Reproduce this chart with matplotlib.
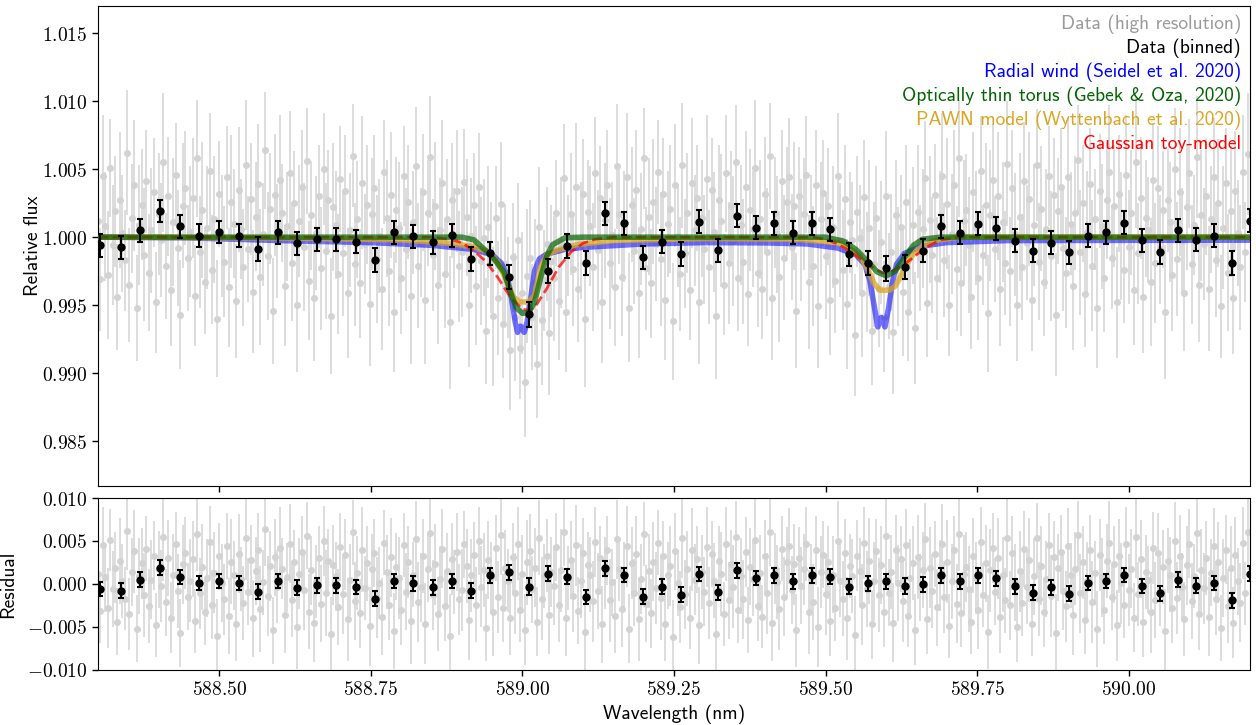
import numpy as np
import matplotlib
matplotlib.use("Agg")
import matplotlib.pyplot as plt
from matplotlib.lines import Line2D
from matplotlib.ticker import MultipleLocator, FuncFormatter

plt.rcParams["mathtext.fontset"] = "cm"
plt.rcParams["axes.formatter.use_mathtext"] = True

# high resolution spectrum: wavelength (offset from 588 nm, in 1e-3 nm), residual and error (1e-4)
hi_wl_milli = [
    300, 304, 308, 312, 316, 320, 324, 328, 332, 336, 340, 344, 348, 352, 356, 360, 364, 368, 372,
    376, 380, 384, 388, 392, 396, 400, 404, 408, 412, 416, 420, 424, 428, 432, 436, 440, 444, 448,
    452, 456, 460, 464, 468, 472, 476, 480, 484, 488, 492, 496, 500, 504, 508, 512, 516, 520, 524,
    528, 532, 536, 540, 544, 548, 552, 556, 560, 564, 568, 572, 576, 580, 584, 588, 592, 596, 600,
    604, 608, 612, 616, 620, 624, 628, 632, 636, 640, 644, 648, 652, 656, 660, 664, 668, 672, 676,
    680, 684, 688, 692, 696, 700, 704, 708, 712, 716, 720, 724, 728, 732, 736, 740, 744, 748, 752,
    756, 760, 764, 768, 772, 776, 780, 784, 788, 792, 796, 800, 804, 808, 812, 816, 820, 824, 828,
    832, 836, 840, 844, 848, 852, 856, 860, 864, 868, 872, 876, 880, 884, 888, 892, 896, 900, 904,
    908, 912, 916, 920, 924, 928, 932, 936, 940, 944, 948, 952, 956, 960, 964, 968, 972, 976, 980,
    984, 988, 992, 996, 1000, 1004, 1008, 1012, 1016, 1020, 1024, 1028, 1032, 1036, 1040, 1044, 1048, 1052, 1056,
    1060, 1064, 1068, 1072, 1076, 1080, 1084, 1088, 1092, 1096, 1100, 1104, 1108, 1112, 1116, 1120, 1124, 1128, 1132,
    1136, 1140, 1144, 1148, 1152, 1156, 1160, 1164, 1168, 1172, 1176, 1180, 1184, 1188, 1192, 1196, 1200, 1204, 1208,
    1212, 1216, 1220, 1224, 1228, 1232, 1236, 1240, 1244, 1248, 1252, 1256, 1260, 1264, 1268, 1272, 1276, 1280, 1284,
    1288, 1292, 1296, 1300, 1304, 1308, 1312, 1316, 1320, 1324, 1328, 1332, 1336, 1340, 1344, 1348, 1352, 1356, 1360,
    1364, 1368, 1372, 1376, 1380, 1384, 1388, 1392, 1396, 1400, 1404, 1408, 1412, 1416, 1420, 1424, 1428, 1432, 1436,
    1440, 1444, 1448, 1452, 1456, 1460, 1464, 1468, 1472, 1476, 1480, 1484, 1488, 1492, 1496, 1500, 1504, 1508, 1512,
    1516, 1520, 1524, 1528, 1532, 1536, 1540, 1544, 1548, 1552, 1556, 1560, 1564, 1568, 1572, 1576, 1580, 1584, 1588,
    1592, 1596, 1600, 1604, 1608, 1612, 1616, 1620, 1624, 1628, 1632, 1636, 1640, 1644, 1648, 1652, 1656, 1660, 1664,
    1668, 1672, 1676, 1680, 1684, 1688, 1692, 1696, 1700, 1704, 1708, 1712, 1716, 1720, 1724, 1728, 1732, 1736, 1740,
    1744, 1748, 1752, 1756, 1760, 1764, 1768, 1772, 1776, 1780, 1784, 1788, 1792, 1796, 1800, 1804, 1808, 1812, 1816,
    1820, 1824, 1828, 1832, 1836, 1840, 1844, 1848, 1852, 1856, 1860, 1864, 1868, 1872, 1876, 1880, 1884, 1888, 1892,
    1896, 1900, 1904, 1908, 1912, 1916, 1920, 1924, 1928, 1932, 1936, 1940, 1944, 1948, 1952, 1956, 1960, 1964, 1968,
    1972, 1976, 1980, 1984, 1988, 1992, 1996, 2000, 2004, 2008, 2012, 2016, 2020, 2024, 2028, 2032, 2036, 2040, 2044,
    2048, 2052, 2056, 2060, 2064, 2068, 2072, 2076, 2080, 2084, 2088, 2092, 2096, 2100, 2104, 2108, 2112, 2116, 2120,
    2124, 2128, 2132, 2136, 2140, 2144, 2148, 2152, 2156, 2160, 2164, 2168, 2172, 2176, 2180, 2184, 2188, 2192, 2196,
]
hi_res_e4 = [
    12, -31, 45, 8, -28, 51, -6, 19, -44, 27, 3, -17, 62, -35, 14, 38, -52, 9, 24,
    -13, 41, -26, 5, 33, -48, 17, -2, 55, -21, 30, -39, 11, 46, -8, -57, 23, 36, -15,
    4, 29, -43, 58, -11, 20, -33, 7, 49, -24, 13, -60, 32, 1, -18, 44, -37, 26, 10,
    -47, 35, 6, -22, 53, -9, 28, -40, 15, 39, -29, 2, 64, -14, 21, -54, 31, -3, 42,
    18, -36, 8, 47, -19, 25, -50, 12, 37, -7, 56, -32, 16, -45, 3, 30, -23, 50, -10,
    27, -58, 22, 9, -27, 43, -12, 34, -41, 5, 60, -20, 13, -34, 40, -5, 24, -49, 17,
    36, -16, 1, -38, 48, 14, -25, 31, -55, 20, 7, -30, 45, -9, 26, -43, 11, 52, -21,
    -4, 33, -46, 18, 59, -13, 23, -35, 6, 41, -26, 15, -61, 29, 2, 37, -18, -7, 46,
    21, -42, 10, 34, -24, 50, -3, 16, -51, 28, 8, -33, 42, -15, 57, -28, 19, 4, -39,
    31, -11, 47, -30, 12, -53, 25, 38, -6, 19, -44, 54, -17, 9, 33, -36, 14, -2, 43,
    -25, 16, 61, -40, 7, 28, -14, 45, -31, 3, 36, -56, 22, 11, -20, 49, -8, 30, -47,
    13, 39, -19, 2, -37, 52, 17, -29, 8, 44, -52, 24, -10, 35, -41, 6, 58, -23, 15,
    -34, 26, -5, 48, -16, 32, -46, 10, 21, -62, 38, 1, -27, 53, -12, 18, -39, 40, 5,
    29, -48, 14, -9, 43, -22, 35, 4, -58, 27, 12, -35, 47, -19, 23, -3, 55, -30, 9,
    -18, 37, -42, 20, 6, 51, -26, 13, -38, 32, -11, 60, -45, 18, 2, -29, 41, -15, 26,
    44, -7, 23, -54, 30, -2, 17, 46, -33, 8, -21, 39, -50, 14, 34, -12, 25, -43, 11,
    -28, 50, 4, -17, 36, -40, 21, 9, -59, 33, 15, -24, 48, -6, 27, -47, 3, 38, -13,
    22, -32, 56, -10, 14, -45, 40, 1, 29, -20, 45, -37, 7, 24, -53, 31, -4, 16, 52,
    -41, 19, -8, 35, -27, 10, 47, -15, 26, -49, 3, 39, -23, 58, -34, 12, 20, -6, -44,
    33, 7, -30, 49, -13, 24, -56, 16, 42, -9, 30, -38, 11, -19, 54, -25, 36, 2, -50,
    15, -22, 41, -4, 28, -46, 9, 53, -18, 21, -33, 6, 45, -14, 31, -57, 19, 37, -8,
    -26, 44, 10, -36, 18, 57, -11, 25, -42, 4, 39, -21, 13, -52, 34, 8, -30, 27, 48,
    -15, 23, -48, 32, 1, -24, 46, -7, 18, -39, 55, -12, 29, -44, 14, 5, -33, 42, -19,
    36, -9, 20, -55, 27, 11, -28, 50, -16, 33, -3, -41, 22, 47, -20, 9, 59, -35, 16,
    -5, 30, -38, 13, 44, -17, 25, -51, 7, 40, -26, 19, -45, 34, 3, -22, 48, -11, 61,
]
hi_err_e4 = [
    42, 38, 45, 40, 47, 36, 44, 41, 39, 50, 43, 37, 46, 42, 40, 48, 39, 44, 41,
    49, 38, 43, 46, 40, 37, 45, 42, 51, 39, 44, 41, 47, 38, 43, 40, 46, 42, 39,
    48, 44, 37, 43, 41, 50, 38, 45, 42, 40, 47, 43, 39, 45, 41, 38, 44, 49, 40,
    42, 46, 37, 43, 48, 39, 41, 45, 40, 44, 50, 38, 43, 47, 41, 39, 45, 42, 48,
    36, 44, 40, 46, 43, 38, 49, 41, 42, 47, 39, 44, 40, 46, 42, 38, 45, 41, 50,
    37, 43, 47, 40, 44, 39, 46, 41, 48, 42, 38, 45, 43, 40, 49, 37, 44, 46, 41,
    39, 47, 42, 45, 38, 43, 40, 46, 44, 39, 48, 41, 37, 45, 42, 50, 38, 44, 46,
    40, 43, 47, 39, 45, 41, 47, 43, 38, 46, 40, 44, 49, 42, 37, 45, 41, 48, 39,
    43, 46, 42, 38, 44, 40, 47, 43, 39, 45, 41, 51, 38, 42, 46, 40, 44, 37, 44,
    40, 47, 42, 38, 45, 41, 49, 43, 39, 46, 40, 44, 48, 37, 42, 45, 41, 46, 39,
    43, 48, 40, 44, 37, 45, 42, 47, 39, 43, 41, 50, 38, 44, 47, 41, 44, 38, 45,
    42, 40, 48, 39, 43, 46, 37, 44, 41, 47, 40, 42, 39, 44, 48, 41, 37, 45, 43,
    40, 46, 42, 38, 49, 41, 44, 39, 47, 43, 45, 38, 42, 46, 40, 44, 37, 48, 41,
    39, 45, 43, 40, 47, 42, 38, 44, 46, 41, 49, 37, 43, 45, 40, 48, 42, 39, 44,
    46, 41, 38, 45, 43, 50, 40, 44, 37, 42, 47, 39, 45, 41, 43, 48, 38, 46, 40,
    44, 39, 47, 42, 36, 45, 41, 43, 49, 38, 44, 40, 46, 42, 39, 47, 43, 41, 45,
    38, 46, 42, 44, 40, 48, 37, 43, 45, 41, 39, 47, 42, 44, 50, 40, 46, 38, 43,
    45, 41, 48, 39, 43, 46, 40, 44, 38, 47, 42, 36, 45, 43, 41, 49, 39, 44, 42,
    40, 47, 43, 38, 45, 41, 46, 42, 48, 37, 44, 40, 46, 43, 39, 45, 41, 50, 38,
    44, 42, 46, 40, 37, 45, 43, 48, 41, 39, 47, 42, 44, 38, 46, 40, 43, 45, 41,
    47, 39, 44, 42, 49, 38, 45, 41, 43, 46, 40, 44, 37, 48, 42, 45, 39, 43, 46,
    41, 44, 38, 47, 42, 40, 46, 43, 39, 45, 41, 48, 37, 44, 42, 46, 40, 43, 49,
    38, 45, 41, 43, 47, 39, 44, 42, 46, 40, 48, 37, 45, 41, 43, 39, 47, 42, 44,
    46, 40, 43, 49, 38, 44, 41, 45, 42, 47, 39, 43, 46, 40, 44, 37, 45, 42, 48,
    41, 43, 46, 39, 44, 42, 47, 38, 45, 40, 43, 48, 41, 44, 39, 46, 42, 37, 45,
]

# binned spectrum
bin_wl = [
    588.3033, 588.3374, 588.3693, 588.4022, 588.4352, 588.4670, 588.4995, 588.5320,
    588.5643, 588.5963, 588.6286, 588.6606, 588.6924, 588.7249, 588.7567, 588.7885,
    588.8199, 588.8519, 588.8837, 588.9150, 588.9468, 588.9782, 589.0101, 589.0415,
    589.0728, 589.1041, 589.1360, 589.1673, 589.1986, 589.2299, 589.2608, 589.2921,
    589.3228, 589.3541, 589.3849, 589.4157, 589.4464, 589.4772, 589.5081, 589.5387,
    589.5696, 589.6004, 589.6306, 589.6608, 589.6911, 589.7218, 589.7514, 589.7818,
    589.8119, 589.8421, 589.8718, 589.9022, 589.9323, 589.9620, 589.9922, 590.0219,
    590.0515, 590.0812, 590.1115, 590.1412, 590.1709, 590.2006,
]
bin_flux = [
    0.99941, 0.99924, 1.00051, 1.00191, 1.00081, 1.00012, 1.00037, 1.00012,
    0.99912, 1.00035, 0.99956, 0.99983, 0.99983, 0.99966, 0.99831, 1.00037,
    1.00007, 0.99961, 1.00015, 0.99838, 0.99880, 0.99708, 0.99432, 0.99752,
    0.99936, 0.99811, 1.00174, 1.00103, 0.99851, 0.99968, 0.99875, 1.00115,
    0.99904, 1.00157, 1.00068, 1.00101, 1.00032, 1.00101, 1.00057, 0.99873,
    0.99808, 0.99771, 0.99779, 0.99901, 1.00080, 1.00031, 1.00099, 1.00065,
    0.99974, 0.99901, 0.99960, 0.99889, 1.00011, 1.00036, 1.00107, 0.99977,
    0.99891, 1.00051, 0.99982, 1.00011, 0.99810, 1.00121,
]
bin_err = [
    0.00085, 0.00085, 0.00083, 0.00083, 0.00084, 0.00085, 0.00083, 0.00085,
    0.00086, 0.00084, 0.00085, 0.00085, 0.00084, 0.00085, 0.00086, 0.00084,
    0.00085, 0.00086, 0.00085, 0.00086, 0.00087, 0.00090, 0.00094, 0.00090,
    0.00087, 0.00086, 0.00085, 0.00085, 0.00086, 0.00085, 0.00086, 0.00084,
    0.00085, 0.00084, 0.00085, 0.00084, 0.00085, 0.00084, 0.00085, 0.00086,
    0.00088, 0.00090, 0.00088, 0.00086, 0.00084, 0.00085, 0.00084, 0.00085,
    0.00085, 0.00086, 0.00085, 0.00086, 0.00084, 0.00085, 0.00084, 0.00085,
    0.00086, 0.00084, 0.00085, 0.00085, 0.00086, 0.00085,
]

# models
wind_wl = [588.30, 588.45, 588.60, 588.75, 588.85, 588.92, 588.95, 588.965, 588.975,
           588.982, 588.988, 588.992, 588.997, 589.003, 589.008, 589.014, 589.020,
           589.028, 589.04, 589.07, 589.10, 589.20, 589.30, 589.40, 589.47, 589.52,
           589.55, 589.565, 589.573, 589.580, 589.586, 589.592, 589.598, 589.604,
           589.610, 589.617, 589.63, 589.66, 589.70, 589.80, 590.20]
wind_flux = [1.0, 0.99995, 0.99975, 0.9996, 0.9994, 0.9991, 0.9987, 0.9981, 0.9972,
             0.9955, 0.9938, 0.9930, 0.99345, 0.9930, 0.9938, 0.9956, 0.9975,
             0.9984, 0.99875, 0.9991, 0.99925, 0.9995, 0.9996, 0.99958, 0.9995, 0.9992,
             0.9987, 0.9980, 0.9968, 0.9950, 0.9934, 0.9941, 0.9934, 0.9948,
             0.9966, 0.9980, 0.9988, 0.99935, 0.9996, 0.99975, 0.99978]

torus_wl = [588.30, 588.90, 588.92, 588.94, 588.955, 588.97, 588.98, 588.99, 589.00,
            589.01, 589.02, 589.03, 589.04, 589.05, 589.07, 589.10, 589.50, 589.53,
            589.55, 589.57, 589.585, 589.60, 589.615, 589.63, 589.645, 589.66, 589.69,
            590.20]
torus_flux = [1.0, 1.0, 0.9998, 0.9990, 0.9983, 0.9974, 0.9960, 0.9948, 0.9944,
              0.99445, 0.9952, 0.9970, 0.9986, 0.99945, 0.99995, 1.0, 1.0, 0.9997,
              0.9991, 0.9982, 0.99745, 0.99715, 0.9975, 0.9985, 0.9994, 0.99985, 1.0,
              1.0]

pawn_wl = [588.30, 588.60, 588.80, 588.88, 588.92, 588.945, 588.96, 588.975, 588.985,
           588.995, 589.01, 589.02, 589.03, 589.04, 589.06, 589.09, 589.15, 589.30,
           589.45, 589.52, 589.545, 589.56, 589.57, 589.58, 589.59, 589.605, 589.615,
           589.625, 589.635, 589.645, 589.66, 589.68, 589.72, 590.20]
pawn_flux = [1.0, 0.99995, 0.9998, 0.99955, 0.9993, 0.9989, 0.9981, 0.9967, 0.9956,
             0.99525, 0.99522, 0.9957, 0.9978, 0.9987, 0.9991, 0.99945, 0.99975, 0.9999,
             0.99985, 0.9996, 0.9990, 0.9984, 0.9976, 0.9966, 0.9961, 0.9961, 0.9964,
             0.9972, 0.9981, 0.9988, 0.9993, 0.99975, 1.0, 1.0]

gauss_wl = [588.30, 588.85, 588.88, 588.90, 588.92, 588.94, 588.96, 588.98, 589.00,
            589.01, 589.02, 589.04, 589.06, 589.08, 589.10, 589.12, 589.15, 589.48,
            589.50, 589.52, 589.54, 589.56, 589.58, 589.595, 589.61, 589.63, 589.65,
            589.67, 589.69, 589.72, 590.20]
gauss_flux = [1.0, 1.0, 0.99985, 0.9996, 0.9990, 0.9982, 0.9970, 0.9956, 0.9947,
              0.99462, 0.9948, 0.9962, 0.9978, 0.9989, 0.99955, 0.99985, 1.0, 1.0,
              0.99985, 0.9995, 0.9990, 0.9983, 0.9977, 0.99735, 0.9975, 0.9980, 0.9987,
              0.99935, 0.9998, 1.0, 1.0]

legend_labels = ["Data (high resolution)", "Data (binned)",
                 "Radial wind (Seidel et al. 2020)",
                 "Optically thin torus (Gebek & Oza, 2020)",
                 "PAWN model (Wyttenbach et al. 2020)", "Gaussian toy-model"]
legend_colors = ["#9a9a9a", "black", "blue", "darkgreen", "goldenrod", "red"]

n_hi = min(len(hi_wl_milli), len(hi_res_e4), len(hi_err_e4))
hi_wl = 588.0 + np.array(hi_wl_milli[:n_hi]) / 1000.0
hi_res = np.array(hi_res_e4[:n_hi]) * 1e-4
hi_err = np.array(hi_err_e4[:n_hi]) * 1e-4
hi_flux = np.interp(hi_wl, gauss_wl, gauss_flux) + hi_res
bin_res = np.array(bin_flux) - np.interp(bin_wl, gauss_wl, gauss_flux)

fig = plt.figure(figsize=(12.56, 7.25), dpi=100)
ax = fig.add_axes([0.078, 0.3297, 0.9172, 0.662])
ax2 = fig.add_axes([0.078, 0.0759, 0.9172, 0.2372], sharex=ax)

gray = "#d3d3d3"
ax.errorbar(hi_wl, hi_flux, yerr=hi_err, fmt="o", color=gray, ms=4, elinewidth=1.1,
            capsize=0, zorder=1)
ax.plot(wind_wl, wind_flux, color="blue", alpha=0.55, lw=4, zorder=3)
ax.plot(pawn_wl, pawn_flux, color="goldenrod", alpha=0.75, lw=4, zorder=4)
ax.plot(gauss_wl, gauss_flux, color="red", alpha=0.75, lw=2, ls="--", zorder=5)
ax.plot(torus_wl, torus_flux, color="darkgreen", alpha=0.7, lw=4, zorder=6)
ax.errorbar(bin_wl, bin_flux, yerr=bin_err, fmt="o", color="black", ms=5, elinewidth=1.5,
            capsize=2.5, capthick=1.5, zorder=10)

ax2.errorbar(hi_wl, hi_res, yerr=hi_err, fmt="o", color=gray, ms=4, elinewidth=1.1,
             capsize=0, zorder=1)
ax2.errorbar(bin_wl, bin_res, yerr=bin_err, fmt="o", color="black", ms=5, elinewidth=1.5,
             capsize=2.5, capthick=1.5, zorder=10)

ax.set_xlim(588.30, 590.20)
ax.set_ylim(0.9817, 1.017)
ax2.set_ylim(-0.010, 0.010)

ax.yaxis.set_major_locator(MultipleLocator(0.005))
ax2.yaxis.set_major_locator(MultipleLocator(0.005))
ax2.xaxis.set_major_locator(MultipleLocator(0.25))
ax.yaxis.set_major_formatter(FuncFormatter(lambda v, p: f"${v:.3f}$"))
ax2.yaxis.set_major_formatter(FuncFormatter(lambda v, p: f"${v:.3f}$"))
ax2.xaxis.set_major_formatter(FuncFormatter(lambda v, p: f"${v:.2f}$"))
ax.tick_params(axis="x", labelbottom=False)
for a in (ax, ax2):
    a.tick_params(labelsize=14, length=4, width=1)

lab = {"family": "cmss10", "size": 14}
ax.set_ylabel("Relative flux", fontdict=lab, labelpad=0)
ax2.set_ylabel("Residual", fontdict=lab, labelpad=7)
ax2.set_xlabel("Wavelength (nm)", fontdict=lab)

handles = [Line2D([], [], linestyle="none") for _ in legend_labels]
ax.legend(handles, legend_labels, loc="upper right", frameon=False, handlelength=0,
          handletextpad=0, markerfirst=False, alignment="right",
          labelcolor=legend_colors, prop={"family": "cmss10", "size": 14},
          labelspacing=0.23, borderaxespad=0.05)

fig.savefig("out.png", dpi=100)
